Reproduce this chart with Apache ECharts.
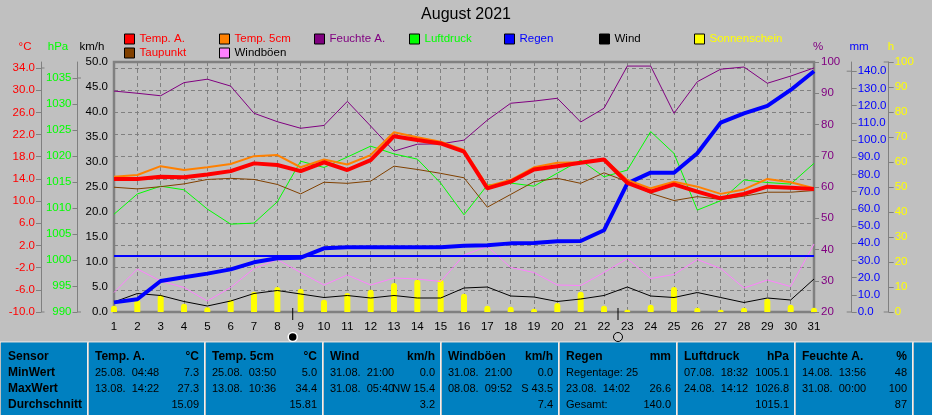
<!DOCTYPE html>
<html><head><meta charset="utf-8">
<style>html,body{margin:0;padding:0;background:#C0C0C0}#c{width:932px;height:415px}</style>
<script src="https://cdn.jsdelivr.net/npm/echarts@6/dist/echarts.min.js"></script>
</head><body><div id="c"></div>
<script>
const days=Array.from({length:31},(_,i)=>i+1);
const tempA=[14.0,14.0,14.4,14.3,14.8,15.4,16.8,16.5,15.4,17.0,15.6,17.4,21.7,21.0,20.4,18.9,12.3,13.5,15.7,16.3,16.9,17.5,13.3,11.7,13.0,11.7,10.5,11.3,12.6,12.4,12.2];
const temp5=[14.4,14.7,16.3,15.6,16.1,16.7,18.1,18.3,16.1,17.5,16.6,18.3,22.4,21.5,20.7,19.2,12.7,13.8,16.1,16.9,17.0,17.6,13.8,12.3,13.5,12.6,11.3,12.1,14.0,13.4,12.3];
const feuchte=[90.7,90.0,89.2,93.4,94.5,92.3,83.6,80.9,78.8,79.7,87.4,79.5,71.5,73.7,73.8,75,81.4,86.8,87.5,88.4,80.8,85.2,98.7,98.7,83.6,93.7,97.7,98.4,93.2,95.5,98.1];
const luftdruck=[1008.8,1012.7,1014.2,1013.5,1009.8,1006.9,1007.1,1011.2,1019.0,1017.8,1019.8,1021.9,1020.4,1019.4,1014.8,1008.7,1014.4,1014.8,1014.2,1016.7,1019.2,1016,1017.3,1024.7,1020.5,1009.6,1011.4,1015.4,1014.9,1014.6,1018.6];
const regen=[5.6,7.4,18.0,20.2,22.3,24.8,28.9,31.2,31.6,37.0,37.6,37.6,37.6,37.6,37.6,38.5,38.8,39.9,40.1,41.1,41.3,47.5,74.8,81.0,81.0,92.3,110.1,115.5,119.8,129.1,140.0];
const regenLevel=days.map(()=>32.6);
const wind=[2.0,3.7,3.3,2.1,1.2,2.2,3.7,4.3,3.6,2.9,3.3,2.8,3.3,2.8,2.8,4.8,5.0,3.2,3.0,2.1,2.6,3.3,5.0,3.2,2.9,3.9,2.9,1.9,2.8,2.4,6.6];
const sonne=[2.5,4.9,6.8,3.3,1.9,4.9,8.1,10,9.3,4.9,7.6,8.9,11.6,12.9,12.9,7.3,2.5,2.1,1.3,3.6,8.1,2.5,0.9,2.9,10,1.7,0.9,1.7,5.3,2.9,1.7];
const taupunkt=[12.5,12.2,12.6,13.1,13.9,14.1,13.9,13.0,11.3,13.4,13.2,13.6,16.3,15.7,15.0,14.2,8.9,11.2,13.5,14.1,13.2,15.1,13.5,11.4,10.1,10.8,10.3,10.9,11.6,11.6,11.9];
const boeen=[3.9,8.6,6.2,4.9,2.2,4.9,8.7,10.5,7.9,5.4,7.4,5.4,6.8,6.6,6.1,11.4,13.1,8.9,7.9,5.4,5.3,7.9,10.7,6.7,7.5,10.5,8.7,4.8,6.4,5.1,13.6];
const moonPhases=[[8.66,-5,'new'],[22.6,-5,'full']];

const tempTicks=[-10,-6,-2,2,6,10,14,18,22,26,30,34];
const hpaTicks=[990,995,1000,1005,1010,1015,1020,1025,1030,1035];
const kmhTicks=[0,5,10,15,20,25,30,35,40,45,50];
const pctTicks=[20,30,40,50,60,70,80,90,100];
const mmTicks=[0,10,20,30,40,50,60,70,80,90,100,110,120,130,140];
const hTicks=[0,10,20,30,40,50,60,70,80,90,100];

const tableHead=[['Sensor','',''],['Temp. A.','°C'],['Temp. 5cm','°C'],['Wind','km/h'],['Windböen','km/h'],['Regen','mm'],['Luftdruck','hPa'],['Feuchte A.','%']];
const rowNames=['MinWert','MaxWert','Durchschnitt'];
const tableRows=[
 [['25.08.  04:48','7.3'],['13.08.  14:22','27.3'],['','15.09']],
 [['25.08.  03:50','5.0'],['13.08.  10:36','34.4'],['','15.81']],
 [['31.08.  21:00','0.0'],['31.08.  05:40','NW 15.4'],['','3.2']],
 [['31.08.  21:00','0.0'],['08.08.  09:52','S 43.5'],['','7.4']],
 [['Regentage: 25',''],['23.08.  14:02','26.6'],['Gesamt:','140.0']],
 [['07.08.  18:32','1005.1'],['24.08.  14:12','1026.8'],['','1015.1']],
 [['14.08.  13:56','48'],['31.08.  00:00','100'],['','87']]
];
const C={red:'#FF0000',orange:'#FF8000',purple:'#800080',lime:'#00FF00',blue:'#0000FF',black:'#000000',yellow:'#FFFF00',brown:'#804000',pink:'#FF80FF',grey:'#808080'};
const FONT='"Liberation Sans", Arial, sans-serif';
const legendItems=[
 ['Temp. A.',C.red,C.red,124,33],['Temp. 5cm',C.orange,C.red,219,33],['Feuchte A.',C.purple,C.purple,314,33],['Luftdruck',C.lime,C.lime,409,33],['Regen',C.blue,C.blue,504,33],['Wind',C.black,C.black,599,33],['Sonnenschein',C.yellow,C.yellow,694,33],
 ['Taupunkt',C.brown,C.red,124,47],['Windböen',C.pink,C.black,219,47]];

function yAx(o){
 const fmt=o.fixed?(v=>v.toFixed(1)):(v=>String(v));
 return {type:'value',position:o.pos,offset:o.offset,min:o.min,max:o.max,alignTicks:false,
  axisLine:{show:o.line!==false,onZero:false,lineStyle:{color:C.grey,width:1}},
  axisTick:{show:o.tick!==false,inside:false,length:5,lineStyle:{color:C.grey,width:1},customValues:o.ticks},
  axisLabel:{color:o.color,fontFamily:FONT,fontSize:11.5,margin:o.margin,formatter:fmt,customValues:o.ticks,hideOverlap:false,showMinLabel:true,showMaxLabel:true},
  splitLine:o.split?{show:true,lineStyle:{color:C.grey,type:[4,3],width:1}}:{show:false}};
}
function pairs(a){return a.map((v,i)=>[days[i],v]);}
function line(name,data,color,width,yi,z){return {name,type:'line',data:pairs(data),xAxisIndex:0,yAxisIndex:yi,symbol:'none',z,lineStyle:{color,width},itemStyle:{color},emphasis:{disabled:true},animation:false};}

// small cross-strokes at the two ends of each free-standing axis
function endCap(yi,x,dx,vals){return {type:'custom',data:vals.map(v=>[1,v]),xAxisIndex:0,yAxisIndex:yi,silent:true,clip:false,z:1,animation:false,
 renderItem:(p,api)=>{const c=api.coord([1,api.value(1)]);return {type:'line',shape:{x1:x,y1:c[1],x2:x+dx,y2:c[1]},style:{stroke:C.grey,lineWidth:1}};}};}

const graphics=[];
function T(x,y,text,color,align,bold,size){graphics.push({type:'text',x,y,silent:true,z:20,style:{text,fill:color,align:align||'left',verticalAlign:'middle',font:(bold?'bold ':'')+(size||11)+'px '+FONT}});}
[['°C',25,C.red],['hPa',58,C.lime],['km/h',92,C.black],['%',818,C.purple],['mm',859,C.blue],['h',891,C.yellow]].forEach(u=>T(u[1],47,u[0],u[2],'center',false,11.5));
const blocks=[[1,87],[89,204],[206,322],[324,440],[442,558],[560,676],[678,794],[796,912],[914,932]];
graphics.push({type:'rect',silent:true,z:9,shape:{x:0,y:341.5,width:932,height:1},style:{fill:'#F0F0F0'}});
blocks.forEach(b=>{
 graphics.push({type:'rect',silent:true,z:10,shape:{x:b[0],y:342.5,width:b[1]-b[0],height:73},style:{fill:'#0080C0'}});
 graphics.push({type:'rect',silent:true,z:10,shape:{x:b[1],y:342.5,width:1,height:73},style:{fill:'#F0F0F0'}});
});
const rowY=[356.5,373,389,405];
T(8,rowY[0],tableHead[0][0],'#000','left',true,12);
rowNames.forEach((r,i)=>T(8,rowY[i+1],r,'#000','left',true,12));
tableRows.forEach((col,ci)=>{
 const b=blocks[ci+1],L=b[0]+6,R=b[1]-5;
 T(L,rowY[0],tableHead[ci+1][0],'#000','left',true,12);
 T(R,rowY[0],tableHead[ci+1][1],'#000','right',true,12);
 col.forEach((cells,ri)=>{if(cells[0])T(L,rowY[ri+1],cells[0],'#000');if(cells[1])T(R,rowY[ri+1],cells[1],'#000','right');});
});

const chart=echarts.init(document.getElementById('c'),null,{renderer:'canvas'});
chart.setOption({
 animation:false,backgroundColor:'#C0C0C0',
 title:{text:'August 2021',left:'center',top:7,itemGap:0,padding:0,textStyle:{color:'#000',fontFamily:FONT,fontSize:16,fontWeight:'normal'}},
 legend:legendItems.map(l=>({show:true,orient:'horizontal',left:l[3],top:l[4],padding:0,itemWidth:10,itemHeight:10,itemGap:0,icon:'rect',selectedMode:false,data:[{name:l[0]}],
   itemStyle:{borderColor:'#000',borderWidth:1},
   textStyle:{color:l[2],fontFamily:FONT,fontSize:11.5}})),
 grid:{left:114,right:118,top:62,bottom:103,show:true,borderColor:C.grey,borderWidth:2.5,backgroundColor:'transparent',containLabel:false},
 xAxis:[{type:'value',min:1,max:31,interval:1,axisLine:{show:false},axisTick:{show:false},
  axisLabel:{color:'#000',fontFamily:FONT,fontSize:11.5,margin:9,formatter:v=>String(v)},
  splitLine:{show:true,lineStyle:{color:C.grey,type:[4,3],width:1}}}],
 yAxis:[
  yAx({pos:'left',offset:73,min:-10,max:35.08,ticks:tempTicks,fixed:true,color:C.red,margin:6,split:true}),
  yAx({pos:'left',offset:36.5,min:990,max:1038.08,ticks:hpaTicks,color:C.lime,margin:6}),
  yAx({pos:'left',offset:0,min:0,max:50,ticks:kmhTicks,fixed:true,color:C.black,line:false,tick:false,margin:6}),
  yAx({pos:'right',offset:0,min:20,max:100,ticks:pctTicks,color:C.purple,margin:7}),
  yAx({pos:'right',offset:37.7,min:0,max:145.35,ticks:mmTicks,fixed:true,color:C.blue,margin:6}),
  yAx({pos:'right',offset:74.7,min:0,max:100,ticks:hTicks,color:C.yellow,margin:6})
 ],
 series:[
  {name:'Sonnenschein',type:'bar',data:pairs(sonne),xAxisIndex:0,yAxisIndex:5,barWidth:6,z:2,clip:true,itemStyle:{color:C.yellow,borderRadius:[3,3,0,0]},animation:false},
  line('Windböen',boeen,C.pink,1,2,3),
  line('Wind',wind,C.black,1,2,4),
  {name:'RegenLevel',type:'line',data:pairs(regenLevel),xAxisIndex:0,yAxisIndex:4,symbol:'none',z:5,lineStyle:{color:C.blue,width:2},animation:false},
  line('Luftdruck',luftdruck,C.lime,1,1,5),
  line('Taupunkt',taupunkt,C.brown,1,0,6),
  line('Feuchte A.',feuchte,C.purple,1,3,6),
  line('Regen',regen,C.blue,4,4,7),
  line('Temp. 5cm',temp5,C.orange,2,0,8),
  line('Temp. A.',tempA,C.red,4,0,9),
  endCap(0,41,3.5,[-10,34]),
  endCap(1,77.5,3.5,[990,1035]),
  endCap(4,851.7,-5,[0,140]),
  endCap(5,888.7,-5,[0,100]),
  {type:'custom',name:'Mond',data:moonPhases,xAxisIndex:0,yAxisIndex:2,z:9,silent:true,clip:false,animation:false,
   renderItem:(p,api)=>{
    const c=api.coord([api.value(0),api.value(1)]);
    const base=api.coord([api.value(0),0]);
    const isNew=moonPhases[p.dataIndex][2]==='new';
    return {type:'group',children:[
     {type:'line',shape:{x1:c[0],y1:base[1]-4,x2:c[0],y2:base[1]+8},style:{stroke:'#000',lineWidth:1}},
     {type:'circle',shape:{cx:c[0],cy:c[1],r:4.5},style:isNew?{fill:'#000',stroke:'#fff',lineWidth:1.5}:{fill:'#C8C8C8',stroke:'#000',lineWidth:1}}
    ]};
   }}
 ],
 graphic:graphics
});
</script></body></html>
